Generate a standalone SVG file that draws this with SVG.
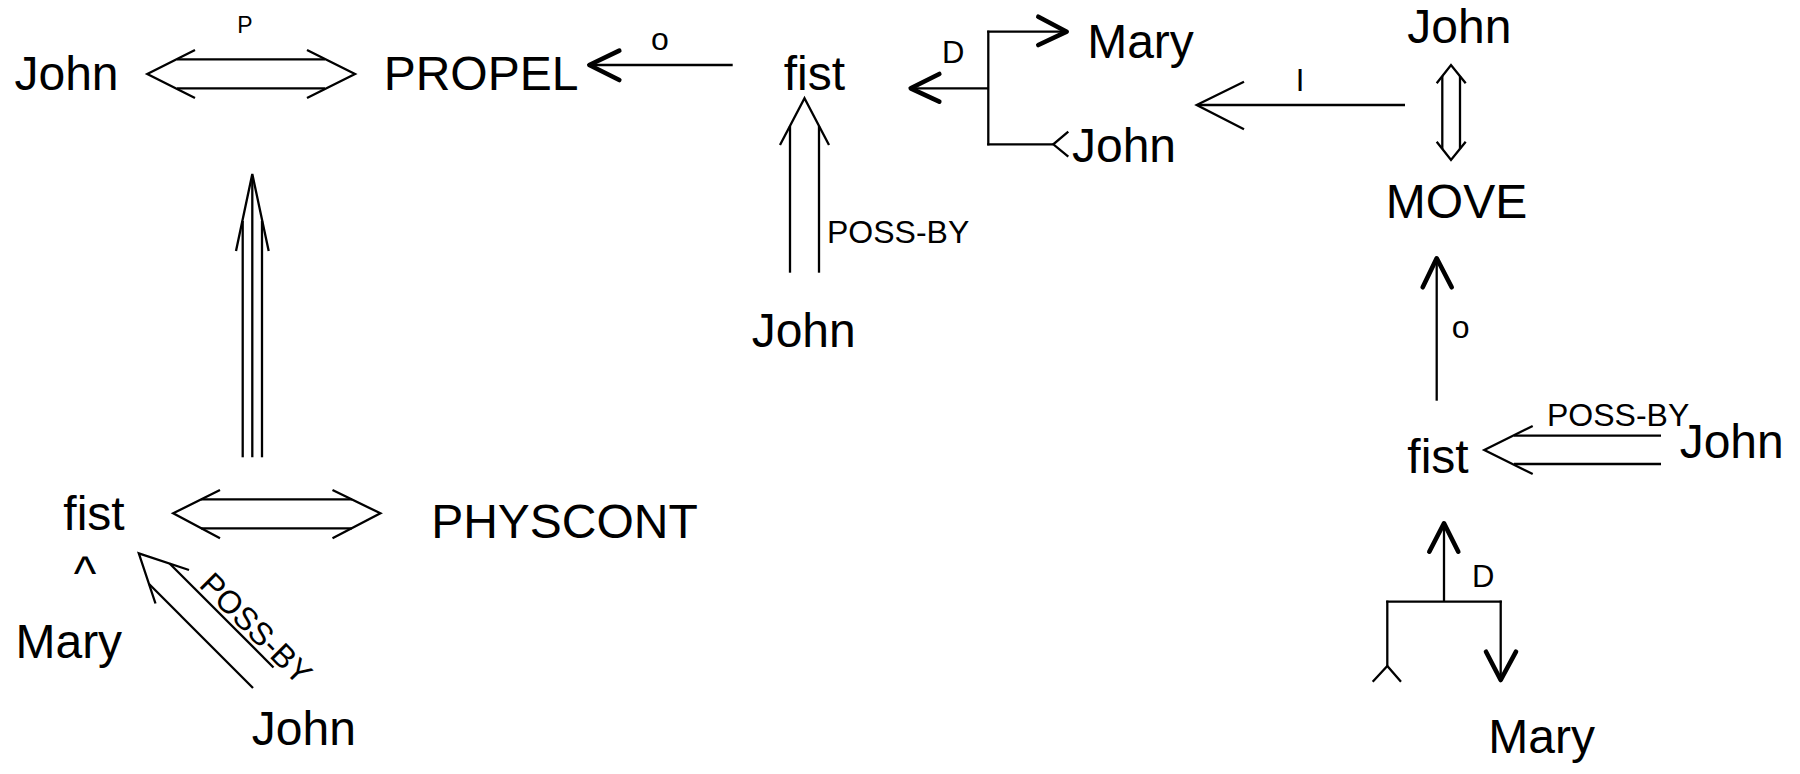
<svg xmlns="http://www.w3.org/2000/svg" width="1800" height="774" viewBox="0 0 1800 774">
<style>
text{font-family:"Liberation Sans",Arial,sans-serif;fill:#000}
.n{font-size:48px;text-anchor:middle}
.l{font-size:32px}
.lc{font-size:31px;text-anchor:middle}
.s{font-size:23px;text-anchor:middle}
.o{font-size:32px;text-anchor:middle}
.t{fill:none;stroke:#000;stroke-width:2.3;stroke-linejoin:miter}
.b{fill:none;stroke:#000;stroke-width:4.6;stroke-linecap:round;stroke-linejoin:round}
</style>
<rect width="1800" height="774" fill="#fff"/>
<g id="connectors">
  <g id="c-john-propel">
    <polyline class="t" points="195,50 147.3,74 195,98"/>
    <polyline class="t" points="307,50 355,74 307,98"/>
    <line class="t" x1="177" y1="59.3" x2="325" y2="59.3"/>
    <line class="t" x1="177" y1="88.3" x2="325" y2="88.3"/>
  </g>
  <g id="c-triple">
    <polyline class="t" points="236,251 252.3,174 268.7,251"/>
    <line class="t" x1="252.3" y1="176" x2="252.3" y2="457.3"/>
    <line class="t" x1="242.7" y1="221" x2="242.7" y2="457.3"/>
    <line class="t" x1="262" y1="221" x2="262" y2="457.3"/>
  </g>
  <g id="c-fist-physcont">
    <polyline class="t" points="220,490 173.2,513.3 220,538.3"/>
    <polyline class="t" points="332.5,490 380.4,513.3 332.5,538.3"/>
    <line class="t" x1="201" y1="499.3" x2="352" y2="499.3"/>
    <line class="t" x1="201" y1="528.3" x2="352" y2="528.3"/>
  </g>
  <g id="c-diag" transform="translate(138.8,553.3) rotate(45)">
    <polyline class="t" points="47.3,-23.7 0,0 47.3,23.7"/>
    <line class="t" x1="29" y1="-14.5" x2="176" y2="-14.5"/>
    <line class="t" x1="29" y1="14.5" x2="176" y2="14.5"/>
  </g>
  <g id="c-fist-propel">
    <line class="t" x1="591" y1="65" x2="732.7" y2="65"/>
    <polyline class="b" points="619.3,50.7 589.3,65 619.3,80"/>
  </g>
  <g id="c-john-fist-mid">
    <polyline class="t" points="780,145 804.5,98.3 829,145"/>
    <line class="t" x1="790" y1="126" x2="790" y2="272.7"/>
    <line class="t" x1="819" y1="126" x2="819" y2="272.7"/>
  </g>
  <g id="c-d-top">
    <line class="t" x1="913" y1="88.3" x2="988.3" y2="88.3"/>
    <polyline class="b" points="939.3,74 910.7,88.3 939.3,101.7"/>
    <line class="t" x1="988.3" y1="30.6" x2="988.3" y2="145.4"/>
    <line class="t" x1="987.2" y1="31.7" x2="1064" y2="31.7"/>
    <polyline class="b" points="1038.3,16.7 1066.7,31.7 1038.3,45"/>
    <line class="t" x1="987.2" y1="144.3" x2="1053.3" y2="144.3"/>
    <polyline class="t" points="1068.3,131.7 1053.3,144.3 1068.3,156.7"/>
  </g>
  <g id="c-i">
    <line class="t" x1="1198" y1="105" x2="1405" y2="105"/>
    <polyline class="t" points="1244,81.7 1196.7,105 1244,129.3"/>
  </g>
  <g id="c-john-move">
    <polyline class="t" points="1436.7,83.3 1451,65 1465.7,83.3"/>
    <polyline class="t" points="1436.7,141.7 1451,160 1465.7,141.7"/>
    <line class="t" x1="1442.3" y1="76" x2="1442.3" y2="149"/>
    <line class="t" x1="1460" y1="76" x2="1460" y2="149"/>
  </g>
  <g id="c-fist-move">
    <line class="t" x1="1436.7" y1="261" x2="1436.7" y2="400.7"/>
    <polyline class="b" points="1422.7,287.3 1436.7,258.3 1451.7,287.3"/>
  </g>
  <g id="c-john-fist-right">
    <polyline class="t" points="1532.7,426 1484.3,450 1532.7,474"/>
    <line class="t" x1="1514" y1="435.7" x2="1661" y2="435.7"/>
    <line class="t" x1="1514" y1="464" x2="1661" y2="464"/>
  </g>
  <g id="c-d-bottom">
    <line class="t" x1="1444" y1="526" x2="1444" y2="601.7"/>
    <polyline class="b" points="1429.3,551.7 1444,523.3 1458.3,551.7"/>
    <line class="t" x1="1386.2" y1="601.7" x2="1501.8" y2="601.7"/>
    <line class="t" x1="1387.3" y1="600.6" x2="1387.3" y2="666"/>
    <polyline class="t" points="1372.7,681.7 1387.3,666 1401,681.7"/>
    <line class="t" x1="1500.7" y1="600.6" x2="1500.7" y2="677"/>
    <polyline class="b" points="1486,651.7 1500.7,680 1516,651.7"/>
  </g>
  <g id="labels">
    <text class="s" x="245" y="33.3">P</text>
    <text class="o" x="660" y="50">o</text>
    <text class="lc" x="953.3" y="62.7">D</text>
    <text class="lc" x="1300" y="90.7">I</text>
    <text class="l" x="827" y="242.7">POSS-BY</text>
    <text class="o" x="1460.7" y="337.8">o</text>
    <text class="l" x="1547" y="426">POSS-BY</text>
    <text class="lc" x="1483.3" y="586.7">D</text>
    <text class="l" transform="translate(198,586) rotate(45)">POSS-BY</text>
  </g>
</g>
<g id="n-john-1"><text class="n" x="66.5" y="90">John</text></g>
<g id="n-propel"><text class="n" x="481" y="90">PROPEL</text></g>
<g id="n-fist-top"><text class="n" x="814.4" y="90">fist</text></g>
<g id="n-mary-top"><text class="n" x="1140.5" y="58">Mary</text></g>
<g id="n-john-mid"><text class="n" x="1124" y="161.7">John</text></g>
<g id="n-john-top-right"><text class="n" x="1459.3" y="43.3">John</text></g>
<g id="n-move"><text class="n" x="1456.5" y="218.3">MOVE</text></g>
<g id="n-john-under-fist"><text class="n" x="803.7" y="346.7">John</text></g>
<g id="n-fist-right"><text class="n" x="1438" y="473.3">fist</text></g>
<g id="n-john-right"><text class="n" x="1731.7" y="458.3">John</text></g>
<g id="n-mary-bottom-right"><text class="n" x="1541.7" y="753.3">Mary</text></g>
<g id="n-fist-left"><text class="n" x="94" y="530">fist</text></g>
<g id="n-physcont"><text class="n" x="564.5" y="538.3">PHYSCONT</text></g>
<g id="n-caret"><text class="n" x="84.9" y="590">^</text></g>
<g id="n-mary-left"><text class="n" x="68.8" y="658.3">Mary</text></g>
<g id="n-john-bottom-left"><text class="n" x="303.8" y="745">John</text></g>
</svg>
